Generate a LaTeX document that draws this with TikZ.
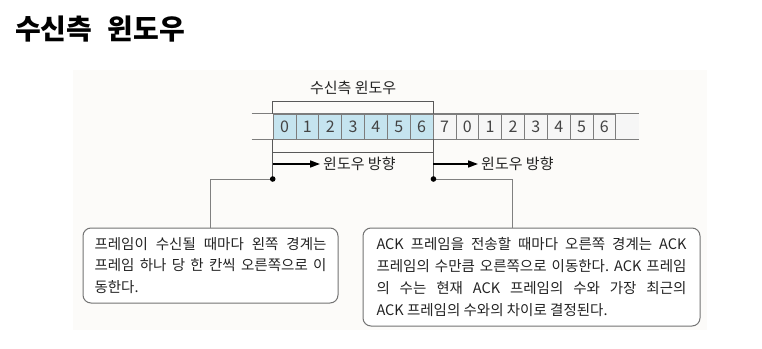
\documentclass[tikz,border=0pt]{standalone}
\usepackage{fontspec}
\setmainfont{Noto Sans CJK KR}
\usetikzlibrary{arrows.meta,positioning}
\definecolor{winblue}{RGB}{197,228,239}
\definecolor{cellgray}{RGB}{246,246,246}
\definecolor{panelbg}{RGB}{252,251,249}
\definecolor{linegray}{RGB}{125,125,125}
\definecolor{textdark}{RGB}{35,35,35}
\frenchspacing

\begin{document}
\begin{tikzpicture}[
  x=1pt, y=-1pt,
  cell/.style={draw=linegray, line width=0.8pt, minimum width=22.85pt, minimum height=25pt, inner sep=0pt, anchor=west, font=\fontsize{16}{16}\selectfont, text=textdark!85},
  wincell/.style={cell, fill=winblue},
  restcell/.style={cell, fill=cellgray},
  stripline/.style={draw=linegray, line width=0.8pt},
  winline/.style={draw=black!65, line width=0.9pt},
  dirarr/.style={-{Triangle[length=10pt,width=7pt]}, line width=1.6pt},
  dirlbl/.style={anchor=west, inner sep=3pt, font=\fontsize{15}{15}\selectfont, text=textdark},
  notebox/.style={draw=black!55, line width=1pt, rounded corners=8pt, fill=white, inner sep=0pt, text=textdark, font=\fontsize{14.5}{21.7}\selectfont, align=left},
  wire/.style={draw=black!50, line width=0.9pt}
]
\useasboundingbox (0,0) rectangle (762,348);
\fill[panelbg] (73,70) rectangle (707,330);

\node[anchor=west, inner sep=0pt, font=\fontsize{28}{28}\selectfont\bfseries] (title) at (15,29) {수신측\hspace{0.55em}윈도우};

% sequence numbers
\foreach \n [count=\i from 0] in {0,...,6}
  \node[wincell] (cell\i) at (272.7+\i*22.85,126.5) {\n};
\foreach \n [count=\i from 7] in {7,0,1,2,3,4,5,6}
  \node[restcell] (cell\i) at (272.7+\i*22.85,126.5) {\n};
\fill[cellgray] (cell14.north east) rectangle ([xshift=23pt]cell14.south east);
\draw[stripline] ([xshift=-21pt]cell0.north west) -- ([xshift=23pt]cell14.north east);
\draw[stripline] ([xshift=-21pt]cell0.south west) -- ([xshift=23pt]cell14.south east);

% window frame
\draw[winline] (cell0.north west) -- ++(0,-12.3) -| (cell6.north east);
\node[inner sep=0pt, above=19pt of cell3, font=\fontsize{15}{15}\selectfont, text=textdark] (wintitle) {수신측 윈도우};

\coordinate (dotrow) at (0,179);
\coordinate (dotL) at (cell0.south west |- dotrow);
\coordinate (dotR) at (cell6.south east |- dotrow);
\draw[winline] (cell0.south west) -- (dotL);
\draw[winline] (cell6.south east) -- (dotR);
\draw[winline] ([yshift=-12.7pt]cell0.south west) -- ([yshift=-12.7pt]cell6.south east);

% direction arrows
\node[dirlbl] (dirL) at (320,164) {윈도우 방향};
\node[dirlbl] (dirR) at (478,164) {윈도우 방향};
\draw[dirarr] (dotL |- dirL) -- (dirL.west);
\draw[dirarr] (dotR |- dirR) -- (dirR.west);

% notes
\node[notebox, minimum width=255pt, minimum height=75pt] (leftnote) at (210.5,265.5)
  {\makebox[232pt][s]{프레임이 수신될 때마다 왼쪽 경계는}\\
   \makebox[232pt][s]{프레임 하나 당 한 칸씩 오른쪽으로 이}\\
   동한다.};
\node[notebox, minimum width=337pt, minimum height=98pt] (rightnote) at (531.5,277)
  {\makebox[310pt][s]{ACK 프레임을 전송할 때마다 오른쪽 경계는 ACK}\\
   \makebox[310pt][s]{프레임의 수만큼 오른쪽으로 이동한다. ACK 프레임}\\
   \makebox[310pt][s]{의 수는 현재 ACK 프레임의 수와 가장 최근의}\\
   ACK 프레임의 수와의 차이로 결정된다.};

\coordinate (rturn) at (512,179);
\draw[wire] (dotL) -| (leftnote.north);
\draw[wire] (dotR) -- (rturn) -- (rturn |- rightnote.north);
\fill (dotL) circle (2.8pt);
\fill (dotR) circle (2.8pt);
\end{tikzpicture}
\end{document}
